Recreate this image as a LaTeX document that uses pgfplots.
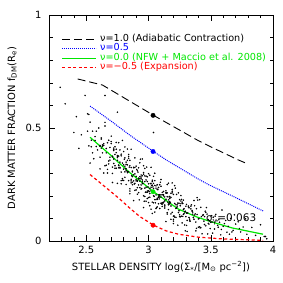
\documentclass[border=0pt]{standalone}
\usepackage{pgfplots}
\pgfplotsset{compat=1.18}
\usepackage{fontspec}
\setmainfont{DejaVu Sans}
\definecolor{mygreen}{RGB}{0,230,0}
\definecolor{myblue}{RGB}{0,0,255}
\definecolor{myred}{RGB}{255,0,0}
\begin{document}
\begin{tikzpicture}
\useasboundingbox (0,0) rectangle (283bp,283bp);
\begin{axis}[
  at={(49bp,42bp)}, anchor=south west,
  scale only axis, width=224bp, height=226bp,
  xmin=2.2, xmax=4, ymin=0, ymax=1,
  xtick={2.5,3,3.5,4}, ytick={0,0.5,1},
  minor xtick={2.2,2.3,2.4,2.6,2.7,2.8,2.9,3.1,3.2,3.3,3.4,3.6,3.7,3.8,3.9},
  minor ytick={0.1,0.2,0.3,0.4,0.6,0.7,0.8,0.9},
  tick align=inside,
  major tick length=6bp, minor tick length=3.5bp,
  tick style={black, line width=0.5bp},
  axis line style={line width=0.7bp},
  /pgf/number format/assume math mode=true,
  tick label style={font=\fontsize{10}{12}\selectfont},
  xticklabel style={yshift=-2bp},
  yticklabel style={xshift=-4bp},
  xlabel={STELLAR DENSITY log(Σ\textsubscript{*}/[M\textsubscript{⊙} pc\textsuperscript{−2}])},
  ylabel={DARK MATTER FRACTION f\textsubscript{DM}(R\textsubscript{e})},
  label style={font=\fontsize{10}{12}\selectfont},
  xlabel style={at={(axis description cs:0.5,-0.115)}, anchor=center},
  ylabel style={at={(axis description cs:-0.165,0.5)}, anchor=center},
  legend style={at={(axis description cs:0.055,0.913)}, anchor=north west,
    draw=none, fill=none, inner sep=0pt, row sep=0pt, column sep=3bp,
    font=\fontsize{9.7}{10}\selectfont,
    nodes={inner sep=0.5bp, text height=6.2bp, text depth=2.1bp}},
  legend cell align=left,
  legend image code/.code={\draw[#1] (0bp,0bp) -- (34bp,0bp);},
]
% scatter of galaxies
\addplot[only marks, mark=*, mark size=0.55bp, mark options={draw=none, fill=black!75}, forget plot] coordinates {
(2.29,0.680) (2.33,0.607) (2.40,0.480) (2.49,0.644) (2.51,0.563) (2.65,0.644) (2.75,0.570) (3.04,0.480) (2.53,0.345) (2.61,0.319) (2.42,0.550) (2.46,0.470) (2.44,0.410) (3.93,0.020) (3.95,0.010)
(2.51,0.486) (2.52,0.421) (2.53,0.526) (2.54,0.446) (2.55,0.486) (2.56,0.364) (2.57,0.445) (2.58,0.486) (2.59,0.403) (2.52,0.560) (2.55,0.390) (2.57,0.462) (2.58,0.418) (2.60,0.500) (2.54,0.417)
(2.61,0.423) (2.64,0.301) (2.67,0.435) (2.62,0.411) (2.69,0.414) (2.65,0.333) (2.68,0.446) (2.63,0.390) (2.66,0.409) (2.70,0.464) (2.61,0.371) (2.64,0.431) (2.67,0.301) (2.62,0.456) (2.69,0.371)
(2.65,0.525) (2.68,0.354) (2.63,0.419) (2.66,0.335) (2.70,0.431) (2.61,0.419) (2.64,0.424) (2.67,0.317) (2.62,0.451) (2.69,0.358) (2.65,0.509) (2.68,0.341) (2.63,0.425) (2.66,0.390) (2.70,0.440)
(2.71,0.259) (2.75,0.378) (2.78,0.305) (2.72,0.411) (2.76,0.334) (2.79,0.345) (2.73,0.322) (2.77,0.403) (2.80,0.318) (2.74,0.391) (2.71,0.299) (2.75,0.357) (2.78,0.384) (2.72,0.343) (2.76,0.435)
(2.79,0.276) (2.73,0.383) (2.77,0.326) (2.80,0.396) (2.74,0.322) (2.71,0.375) (2.75,0.255) (2.78,0.377) (2.72,0.363) (2.76,0.376) (2.79,0.269) (2.73,0.417) (2.77,0.323) (2.80,0.337) (2.74,0.436)
(2.71,0.327) (2.75,0.375) (2.78,0.253) (2.72,0.405) (2.76,0.336) (2.79,0.445) (2.73,0.333) (2.77,0.349) (2.80,0.268) (2.74,0.406) (2.71,0.372) (2.75,0.369) (2.78,0.267) (2.72,0.400) (2.76,0.324)
(2.81,0.416) (2.84,0.267) (2.87,0.306) (2.82,0.311) (2.85,0.357) (2.88,0.179) (2.83,0.337) (2.86,0.266) (2.89,0.325) (2.90,0.266) (2.815,0.321)
(2.81,0.282) (2.84,0.366) (2.87,0.285) (2.82,0.349) (2.85,0.231) (2.88,0.293) (2.83,0.357) (2.86,0.273) (2.89,0.368) (2.90,0.226) (2.845,0.327)
(2.81,0.306) (2.84,0.374) (2.87,0.260) (2.82,0.319) (2.85,0.209) (2.88,0.326) (2.83,0.307) (2.86,0.325) (2.89,0.224) (2.90,0.331) (2.865,0.289)
(2.81,0.331) (2.84,0.383) (2.87,0.249) (2.82,0.339) (2.85,0.221) (2.88,0.324) (2.83,0.302) (2.86,0.406) (2.89,0.255) (2.90,0.286) (2.885,0.252)
(2.81,0.368) (2.84,0.306) (2.87,0.309) (2.82,0.250) (2.85,0.333) (2.88,0.266) (2.83,0.407) (2.86,0.257) (2.89,0.297) (2.90,0.273) (2.805,0.362)
(2.91,0.207) (2.95,0.262) (2.98,0.287) (2.92,0.248) (2.96,0.333) (2.99,0.188) (2.93,0.285) (2.97,0.234) (3.00,0.298) (2.94,0.230) (2.955,0.255) (2.925,0.182)
(2.91,0.311) (2.95,0.254) (2.98,0.270) (2.92,0.214) (2.96,0.303) (2.99,0.221) (2.93,0.276) (2.97,0.321) (3.00,0.192) (2.94,0.283) (2.965,0.176) (2.915,0.305)
(2.91,0.265) (2.95,0.363) (2.98,0.216) (2.92,0.278) (2.96,0.200) (2.99,0.284) (2.93,0.265) (2.97,0.263) (3.00,0.170) (2.94,0.292) (2.945,0.232) (2.935,0.362)
(2.91,0.236) (2.95,0.270) (2.98,0.238) (2.92,0.324) (2.96,0.148) (2.99,0.263) (2.93,0.236) (2.97,0.288) (3.00,0.222) (2.94,0.275) (2.975,0.216) (2.985,0.327)
(2.91,0.267) (2.95,0.289) (2.98,0.176) (2.92,0.275) (2.96,0.296) (2.99,0.216) (2.93,0.346) (2.97,0.197) (3.00,0.253) (2.94,0.248) (2.905,0.317) (2.995,0.239)
(3.01,0.232) (3.05,0.128) (3.08,0.237) (3.02,0.222) (3.06,0.234) (3.09,0.144) (3.03,0.269) (3.07,0.189) (3.10,0.204) (3.04,0.286) (3.055,0.169) (3.025,0.246)
(3.01,0.156) (3.05,0.246) (3.08,0.193) (3.02,0.326) (3.06,0.183) (3.09,0.205) (3.03,0.172) (3.07,0.249) (3.10,0.194) (3.04,0.232) (3.065,0.148) (3.015,0.254)
(3.01,0.210) (3.05,0.300) (3.08,0.165) (3.02,0.238) (3.06,0.204) (3.09,0.249) (3.03,0.122) (3.07,0.229) (3.10,0.167) (3.04,0.255) (3.045,0.197) (3.035,0.239)
(3.01,0.194) (3.05,0.267) (3.08,0.195) (3.02,0.255) (3.06,0.144) (3.09,0.203) (3.03,0.263) (3.07,0.184) (3.10,0.272) (3.04,0.169) (3.075,0.227) (3.085,0.186)
(3.01,0.291) (3.05,0.183) (3.08,0.204) (3.02,0.141) (3.06,0.244) (3.09,0.195) (3.03,0.247) (3.07,0.151) (3.10,0.242) (3.04,0.200) (3.005,0.218) (3.095,0.260)
(3.11,0.153) (3.15,0.196) (3.18,0.096) (3.12,0.219) (3.16,0.164) (3.19,0.257) (3.13,0.159) (3.17,0.175) (3.20,0.110) (3.14,0.222) (3.155,0.172)
(3.11,0.205) (3.15,0.119) (3.18,0.193) (3.12,0.169) (3.16,0.256) (3.19,0.127) (3.13,0.195) (3.17,0.164) (3.20,0.206) (3.14,0.086) (3.165,0.195)
(3.11,0.164) (3.15,0.213) (3.18,0.155) (3.12,0.200) (3.16,0.139) (3.19,0.213) (3.13,0.177) (3.17,0.197) (3.20,0.096) (3.14,0.185) (3.145,0.212)
(3.11,0.170) (3.15,0.250) (3.18,0.120) (3.12,0.205) (3.16,0.160) (3.19,0.220) (3.13,0.155) (3.17,0.171) (3.20,0.077) (3.14,0.214) (3.175,0.169)
(3.11,0.215) (3.15,0.125) (3.18,0.211) (3.12,0.172) (3.16,0.182) (3.19,0.228) (3.13,0.146) (3.17,0.188) (3.20,0.088) (3.14,0.212) (3.105,0.164)
(3.21,0.245) (3.25,0.116) (3.28,0.139) (3.22,0.105) (3.26,0.177) (3.29,0.129) (3.23,0.160) (3.27,0.080) (3.30,0.154) (3.24,0.126)
(3.215,0.234) (3.255,0.107) (3.285,0.143) (3.225,0.146) (3.265,0.184) (3.295,0.045) (3.235,0.168) (3.275,0.109) (3.305,0.162) (3.245,0.134)
(3.21,0.166) (3.25,0.108) (3.28,0.181) (3.22,0.144) (3.26,0.165) (3.29,0.071) (3.23,0.151) (3.27,0.172) (3.30,0.108) (3.24,0.213)
(3.205,0.111) (3.255,0.156) (3.285,0.121) (3.225,0.206) (3.265,0.110) (3.295,0.132) (3.235,0.070) (3.275,0.166) (3.305,0.124) (3.245,0.167)
(3.21,0.106) (3.25,0.183) (3.28,0.118) (3.22,0.160) (3.26,0.201)
(3.31,0.091) (3.35,0.132) (3.38,0.045) (3.32,0.151) (3.36,0.105) (3.39,0.192) (3.33,0.097) (3.37,0.115) (3.40,0.061) (3.34,0.154)
(3.315,0.124) (3.355,0.128) (3.385,0.056) (3.325,0.147) (3.365,0.096) (3.395,0.181) (3.335,0.088) (3.375,0.120) (3.405,0.099) (3.345,0.160)
(3.31,0.042) (3.35,0.135) (3.38,0.084) (3.32,0.155) (3.36,0.103) (3.39,0.117) (3.33,0.089) (3.37,0.156) (3.40,0.098) (3.34,0.142)
(3.305,0.069) (3.355,0.119) (3.385,0.143) (3.325,0.104) (3.365,0.179)
(3.41,0.063) (3.45,0.108) (3.48,0.078) (3.42,0.149) (3.46,0.067) (3.49,0.089) (3.43,0.032) (3.47,0.119) (3.50,0.083) (3.44,0.116)
(3.415,0.058) (3.455,0.132) (3.485,0.075) (3.425,0.108) (3.465,0.148) (3.495,0.055) (3.435,0.114) (3.475,0.031) (3.505,0.112) (3.445,0.088)
(3.41,0.183) (3.45,0.073) (3.48,0.094) (3.42,0.059) (3.46,0.127)
(3.51,0.084) (3.55,0.089) (3.58,0.027) (3.52,0.105) (3.56,0.061) (3.59,0.137) (3.53,0.053) (3.57,0.083) (3.60,0.065) (3.54,0.118) (3.515,0.035) (3.565,0.094) (3.585,0.051) (3.535,0.110) (3.555,0.069)
(3.61,0.077) (3.63,0.039) (3.66,0.100) (3.68,0.047) (3.62,0.091) (3.65,0.030) (3.69,0.116) (3.64,0.065) (3.67,0.040) (3.70,0.075)
(3.72,0.085) (3.74,0.040) (3.76,0.062) (3.78,0.098) (3.73,0.055) (3.79,0.030)
(3.83,0.060) (3.86,0.025) (3.90,0.072) (3.94,0.020)
};
% model curves
\addplot[black, line width=0.9bp, dash pattern=on 8bp off 4bp] coordinates {
(2.43,0.717) (2.63,0.690) (2.93,0.592) (3.04,0.556) (3.40,0.444) (3.48,0.422) (3.72,0.359) (3.78,0.345)};
\addlegendentry{ν=1.0 (Adiabatic Contraction)}
\addplot[myblue, line width=1bp, dash pattern=on 1bp off 1bp] coordinates {
(2.53,0.597) (2.70,0.530) (2.85,0.468) (3.04,0.396) (3.15,0.356) (3.40,0.274) (3.48,0.250) (3.70,0.192) (3.92,0.133)};
\addlegendentry[text=myblue]{ν=0.5}
\addplot[mygreen, line width=1.2bp] coordinates {
(2.53,0.459) (2.60,0.425) (2.70,0.378) (2.74,0.357) (2.85,0.302) (2.93,0.267) (3.04,0.218) (3.24,0.141) (3.38,0.108) (3.48,0.089) (3.67,0.058) (3.92,0.030)};
\addlegendentry[text=mygreen]{ν=0.0 (NFW + Maccio et al. 2008)}
\addplot[myred, line width=1.2bp, dash pattern=on 3bp off 2.5bp] coordinates {
(2.53,0.294) (2.65,0.240) (2.77,0.185) (2.85,0.145) (2.93,0.108) (3.04,0.070) (3.14,0.045) (3.24,0.030) (3.40,0.017) (3.60,0.009) (3.92,0.003)};
\addlegendentry[text=myred]{ν=−0.5 (Expansion)}
% reference dots
\addplot[only marks, mark=*, mark size=2.2bp, black, mark options={solid}, forget plot] coordinates {(3.036,0.556)};
\addplot[only marks, mark=*, mark size=2.2bp, myblue, mark options={solid}, forget plot] coordinates {(3.036,0.396)};
\addplot[only marks, mark=*, mark size=2.2bp, mygreen, mark options={solid}, forget plot] coordinates {(3.036,0.218)};
\addplot[only marks, mark=*, mark size=2.2bp, myred, mark options={solid}, forget plot] coordinates {(3.036,0.070)};
\node[anchor=west, font=\fontsize{10.5}{12}\selectfont, inner sep=0pt] at (axis cs:3.46,0.097) {σ\textsubscript{γ}=0.063};
\end{axis}
\end{tikzpicture}
\end{document}
